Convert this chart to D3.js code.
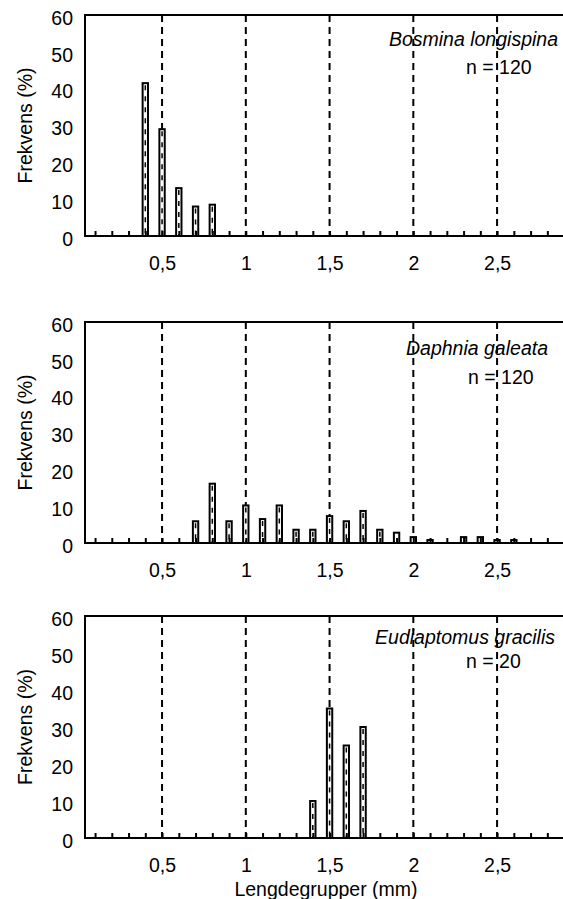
<!DOCTYPE html>
<html>
<head>
<meta charset="utf-8">
<script src="https://cdn.jsdelivr.net/npm/d3@7/dist/d3.min.js"></script>
<style>
  html, body { margin: 0; padding: 0; background: #fff; }
  svg { display: block; font-family: "Liberation Sans", Arial, sans-serif; }
</style>
</head>
<body>
<svg id="chart" width="563" height="899"></svg>
<script>
// data: lengdegrupper (mm) og frekvens (%)
const species = ["Bosmina longispina", "Daphnia galeata", "Eudiaptomus gracilis"];
const nLabels = ["n = 120", "n = 120", "n = 20"];

const bosminaLength = [0.4, 0.5, 0.6, 0.7, 0.8];
const bosminaFreq = [41.5, 29, 13, 8, 8.5];

const daphniaLength = [0.7, 0.8, 0.9, 1.0, 1.1, 1.2, 1.3, 1.4, 1.5, 1.6, 1.7, 1.8, 1.9, 2.0, 2.1, 2.3, 2.4, 2.5, 2.6];
const daphniaFreq = [5.9, 16.1, 5.9, 10.2, 6.5, 10.2, 3.6, 3.6, 7.3, 5.9, 8.7, 3.6, 2.8, 1.6, 0.8, 1.6, 1.6, 0.8, 0.8];

const eudiaptomusLength = [1.4, 1.5, 1.6, 1.7];
const eudiaptomusFreq = [10, 35, 25, 30];

const xLabelTicks = [0.5, 1, 1.5, 2, 2.5];
const xMinorTicks = d3.range(1, 30).map((i) => i / 10);
const yTicks = [0, 10, 20, 30, 40, 50, 60];
const xTitle = "Lengdegrupper (mm)";
const yTitle = "Frekvens (%)";

// layout
const plotLeft = 85;
const plotRight = 580;
const panelTop = [15, 322, 616];
const panelBottom = [236, 543, 838];
const nameEnd = [558, 548, 555];
const nameDy = [31, 33, 28];
const nStart = [466, 468, 466];
const nDy = [59, 62, 52];
const fontSize = 19.5;

const panels = [
  { length: bosminaLength, freq: bosminaFreq },
  { length: daphniaLength, freq: daphniaFreq },
  { length: eudiaptomusLength, freq: eudiaptomusFreq },
];

const svg = d3.select("#chart");

const x = d3.scaleLinear().domain([0.04, 2.995]).range([plotLeft, plotRight]);
const halfBar = 0.016;

panels.forEach((p, i) => {
  const y = d3.scaleLinear().domain([0, 60]).range([panelBottom[i], panelTop[i]]);
  const g = svg.append("g").attr("class", "panel" + i);

  // dashed reference lines
  g.selectAll("line.ref")
    .data(xLabelTicks)
    .enter()
    .append("line")
    .attr("class", "ref")
    .attr("x1", (d) => x(d))
    .attr("x2", (d) => x(d))
    .attr("y1", y(60))
    .attr("y2", y(0))
    .attr("stroke", "#000")
    .attr("stroke-width", 2)
    .attr("stroke-dasharray", "7,5");

  const data = p.length.map((l, k) => ({ l: l, f: p.freq[k] }));

  // hollow bars
  g.selectAll("rect.bar")
    .data(data)
    .enter()
    .append("rect")
    .attr("class", "bar")
    .attr("x", (d) => x(d.l - halfBar))
    .attr("width", (d) => x(d.l + halfBar) - x(d.l - halfBar))
    .attr("y", (d) => y(d.f))
    .attr("height", (d) => y(0) - y(d.f))
    .attr("fill", "#fff")
    .attr("stroke", "#000")
    .attr("stroke-width", 2);

  // inner dash pattern of the bars
  g.selectAll("line.inner")
    .data(data.filter((d) => d.f > 3))
    .enter()
    .append("line")
    .attr("class", "inner")
    .attr("x1", (d) => x(d.l))
    .attr("x2", (d) => x(d.l))
    .attr("y1", (d) => y(d.f) + 2)
    .attr("y2", y(0))
    .attr("stroke", "#000")
    .attr("stroke-width", 1.5)
    .attr("stroke-dasharray", "5,6");

  // minor ticks, pointing up
  const tickAxis = d3.axisBottom(x).tickValues(xMinorTicks).tickSize(-5).tickFormat("");
  const ta = g.append("g").attr("transform", `translate(0,${y(0)})`).call(tickAxis);
  ta.select(".domain").remove();
  ta.selectAll(".tick line").attr("stroke", "#000").attr("stroke-width", 2);

  // x labels
  const labelAxis = d3.axisBottom(x)
    .tickValues(xLabelTicks)
    .tickSize(0)
    .tickPadding(20)
    .tickFormat((d) => String(d).replace(".", ","));
  const la = g.append("g").attr("transform", `translate(0,${y(0)})`).call(labelAxis);
  la.select(".domain").remove();
  la.selectAll("text")
    .attr("font-size", fontSize)
    .attr("font-family", "Liberation Sans, Arial, sans-serif")
    .attr("fill", "#000");

  // y labels
  const yAxis = d3.axisLeft(y).tickValues(yTicks).tickSize(0).tickPadding(12);
  const ya = g.append("g").attr("transform", `translate(${plotLeft},3)`).call(yAxis);
  ya.select(".domain").remove();
  ya.selectAll("text")
    .attr("font-size", fontSize)
    .attr("font-family", "Liberation Sans, Arial, sans-serif")
    .attr("fill", "#000");

  // frame: left, top and bottom axis lines
  g.append("path")
    .attr("d", `M${plotRight},${y(60)}H${plotLeft}V${y(0)}H${plotRight}`)
    .attr("fill", "none")
    .attr("stroke", "#000")
    .attr("stroke-width", 2);

  // species name and n
  g.append("text")
    .attr("x", nameEnd[i])
    .attr("y", y(60) + nameDy[i])
    .attr("text-anchor", "end")
    .attr("font-style", "italic")
    .attr("font-size", fontSize)
    .text(species[i]);

  g.append("text")
    .attr("x", nStart[i])
    .attr("y", y(60) + nDy[i])
    .attr("font-size", fontSize)
    .text(nLabels[i]);

  // y title
  g.append("text")
    .attr("transform", `translate(25,${(y(0) + y(60)) / 2}) rotate(-90)`)
    .attr("text-anchor", "middle")
    .attr("dy", "0.35em")
    .attr("font-size", fontSize)
    .text(yTitle);
});

svg.append("text")
  .attr("x", 326)
  .attr("y", 896)
  .attr("text-anchor", "middle")
  .attr("font-size", fontSize)
  .text(xTitle);
</script>
</body>
</html>
